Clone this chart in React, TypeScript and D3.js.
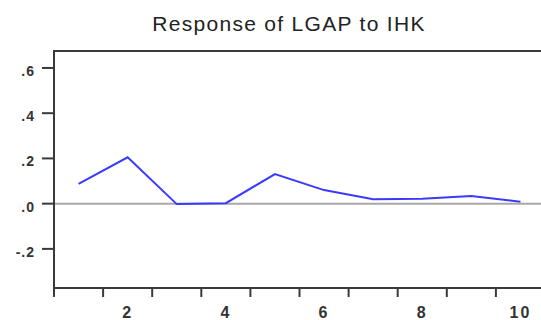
import React, { useEffect, useRef } from 'react'
import * as d3 from 'd3'

// impulse response of LGAP to IHK, periods 1..10
const periods = [1, 2, 3, 4, 5, 6, 7, 8, 9, 10]
const response = [0.087, 0.205, -0.002, 0.002, 0.131, 0.06, 0.019, 0.022, 0.034, 0.008]
const yTicks = [-0.2, 0, 0.2, 0.4, 0.6]
const yTickLabels = ['-.2', '.0', '.2', '.4', '.6']
const xLabelPeriods = [2, 4, 6, 8, 10]
const title = 'Response of LGAP to IHK'

export default function App() {
  const ref = useRef<SVGSVGElement>(null)

  useEffect(() => {
    const width = 541
    const height = 320
    const left = 54
    const right = 545
    const top = 51
    const bottom = 288
    const font = 'Arial, "Liberation Sans", sans-serif'

    const svg = d3.select(ref.current)
    svg.selectAll('*').remove()
    svg.attr('width', width).attr('height', height)

    const x = d3.scaleLinear().domain([0.5, 10.5]).range([left, right])
    const y = d3.scaleLinear().domain([-0.373, 0.675]).range([bottom, top])

    svg.append('text')
      .attr('x', 289)
      .attr('y', 31)
      .attr('text-anchor', 'middle')
      .style('font-family', font)
      .style('font-size', '21px')
      .style('letter-spacing', '1.3px')
      .attr('fill', '#222')
      .text(title)

    // zero line
    svg.append('line')
      .attr('x1', left).attr('x2', right)
      .attr('y1', y(0)).attr('y2', y(0))
      .attr('stroke', '#a8a8a8')
      .attr('stroke-width', 2)

    // frame
    svg.append('rect')
      .attr('x', left).attr('y', top)
      .attr('width', right - left).attr('height', bottom - top)
      .attr('fill', 'none')
      .attr('stroke', '#3a3a3a')
      .attr('stroke-width', 2)

    // y ticks
    yTicks.forEach((v, i) => {
      svg.append('line')
        .attr('x1', left - 12).attr('x2', left)
        .attr('y1', y(v)).attr('y2', y(v))
        .attr('stroke', '#3a3a3a').attr('stroke-width', 2)
      svg.append('text')
        .attr('x', 35)
        .attr('y', y(v) + 8)
        .attr('text-anchor', 'end')
        .style('font-family', font)
        .style('font-size', '14px')
        .style('font-weight', 'bold')
        .style('letter-spacing', '1px')
        .attr('fill', '#333')
        .text(yTickLabels[i])
    })

    // x ticks at period boundaries
    d3.range(0.5, 10.5, 1).forEach(b => {
      svg.append('line')
        .attr('x1', x(b)).attr('x2', x(b))
        .attr('y1', bottom).attr('y2', bottom + 9)
        .attr('stroke', '#3a3a3a').attr('stroke-width', 2)
    })
    xLabelPeriods.forEach(p => {
      svg.append('text')
        .attr('x', x(p))
        .attr('y', 318)
        .attr('text-anchor', 'middle')
        .style('font-family', font)
        .style('font-size', '16px')
        .style('font-weight', 'bold')
        .style('letter-spacing', '2px')
        .attr('fill', '#333')
        .text(String(p))
    })

    const line = d3.line<number>()
      .x((d, i) => x(periods[i]))
      .y(d => y(d))

    svg.append('path')
      .datum(response)
      .attr('d', line)
      .attr('fill', 'none')
      .attr('stroke', '#3a3aff')
      .attr('stroke-width', 2)
  }, [])

  return (
    <svg ref={ref} style={{ position: 'absolute', left: 0, top: 0, background: '#fff' }} />
  )
}
